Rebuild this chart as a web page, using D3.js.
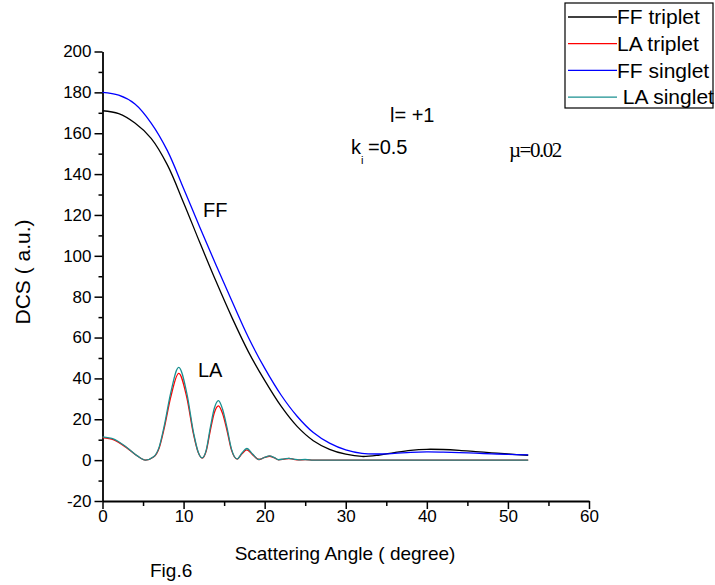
<!DOCTYPE html>
<html>
<head>
<meta charset="utf-8">
<script src="https://cdn.jsdelivr.net/npm/d3@7"></script>
<style>
  body { margin: 0; background: #fff; }
  svg { display: block; font-family: "Liberation Sans", Arial, sans-serif; }
</style>
</head>
<body>
<div id="chart"></div>
<script>
// Scattering angle grid (degree) for the FF curves
const angleFF = [0, 2, 4, 6, 8, 10, 12, 14, 16, 18, 20, 22, 24, 26, 28, 30, 32, 34, 36, 38, 40, 42, 44, 46, 48, 50, 52.5]
const ffTriplet = [171, 169.6, 165, 157.5, 144.5, 126, 106.5, 87.5, 69.5, 53, 39, 26.5, 16.5, 9.5, 5.3, 2.9, 1.8, 2.4, 3.7, 4.8, 5.3, 5.2, 4.8, 4.2, 3.6, 3.0, 2.4]
const ffSinglet = [180, 178.6, 174.3, 165, 151.5, 133, 114, 95.5, 77.5, 60, 45, 32, 21.5, 13.5, 8.3, 5.0, 3.3, 3.0, 3.3, 3.8, 4.0, 3.9, 3.7, 3.4, 3.1, 2.8, 2.6]

// Scattering angle grid (degree) for the LA curves
const angleLA = [0, 1.4, 3.0, 4.3, 5.3, 6.3, 7.0, 7.6, 8.4, 9.4, 10.4, 11.25, 11.8, 12.3, 12.8, 13.3, 13.8, 14.3, 14.8, 15.35, 15.9, 16.6, 17.2, 17.8, 18.5, 19.3, 20.0, 20.6, 21.2, 21.7, 22.4, 23.0, 23.6, 24.2, 25.0, 26, 28, 30, 35, 40, 45, 52.5]
const laTriplet = [11.0, 9.9, 6.0, 2.0, 0, 1.5, 6.1, 15.4, 30.6, 42.5, 30.6, 12.2, 3.8, 1.0, 4.6, 14.6, 23.3, 26.6, 22.9, 14.6, 5.0, 0.5, 3.1, 5.0, 2.7, 0.3, 1.3, 1.9, 1.1, 0.2, 0.5, 0.8, 0.4, 0.1, 0.25, 0.05, 0, 0, 0, 0, 0, 0]
const laSinglet = [11.4, 10.3, 6.2, 2.1, 0, 1.6, 6.5, 16.5, 32.7, 45.4, 32.7, 13, 4, 1.1, 5, 16, 25.5, 29.1, 25, 16, 5.5, 0.6, 3.5, 5.7, 3, 0.3, 1.4, 2.1, 1.2, 0.2, 0.6, 0.9, 0.5, 0.1, 0.3, 0.05, 0, 0, 0, 0, 0, 0]

// Axis ticks
const xTicks = [0, 10, 20, 30, 40, 50, 60]
const xMinorTicks = [5, 15, 25, 35, 45, 55]
const yTicks = [-20, 0, 20, 40, 60, 80, 100, 120, 140, 160, 180, 200]
const yMinorTicks = [-10, 10, 30, 50, 70, 90, 110, 130, 150, 170, 190]

const seriesNames = ["FF triplet", "LA triplet", "FF singlet", " LA singlet"]
const seriesColors = ["#000000", "#ff0000", "#0000ff", "#1a9090"]

const width = 715,
  height = 585

const svg = d3.select("#chart").append("svg").attr("width", width).attr("height", height)

const x = d3.scaleLinear().domain([0, 60]).range([102.5, 589])
const y = d3.scaleLinear().domain([-20, 200]).range([501, 51.5])

// Axes (left and bottom only, like Origin)
svg
  .append("g")
  .attr("transform", `translate(0,${y(-20)})`)
  .call(d3.axisBottom(x).tickValues(xTicks).tickSize(8).tickSizeOuter(0).tickPadding(1).tickFormat((d) => String(d)))
svg
  .append("g")
  .attr("transform", `translate(0,${y(-20)})`)
  .call(d3.axisBottom(x).tickValues(xMinorTicks).tickSize(5).tickFormat(""))
  .call((g) => g.select(".domain").remove())

svg
  .append("g")
  .attr("transform", `translate(${x(0)},0)`)
  .call(d3.axisLeft(y).tickValues(yTicks).tickSize(8).tickSizeOuter(0).tickPadding(3).tickFormat((d) => String(d)))
svg
  .append("g")
  .attr("transform", `translate(${x(0)},0)`)
  .call(d3.axisLeft(y).tickValues(yMinorTicks).tickSize(4).tickFormat(""))
  .call((g) => g.select(".domain").remove())

svg.selectAll(".domain").attr("stroke", "#000").attr("stroke-width", 1.8)
svg.selectAll(".tick line").attr("stroke", "#000").attr("stroke-width", 1.5)
svg
  .selectAll(".tick text")
  .attr("fill", "#000")
  .style("font-size", "17px")
  .style("font-family", "Liberation Sans, Arial, sans-serif")

// Curves
const series = [
  { xs: angleFF, ys: ffTriplet, curve: d3.curveCatmullRom.alpha(0.5) },
  { xs: angleLA, ys: laTriplet, curve: d3.curveMonotoneX },
  { xs: angleFF, ys: ffSinglet, curve: d3.curveCatmullRom.alpha(0.5) },
  { xs: angleLA, ys: laSinglet, curve: d3.curveMonotoneX },
]

series.forEach((s, i) => {
  const line = d3
    .line()
    .x((d) => x(d[0]))
    .y((d) => y(d[1]))
    .curve(s.curve)
  svg
    .append("path")
    .datum(s.xs.map((a, j) => [a, s.ys[j]]))
    .attr("fill", "none")
    .attr("stroke", seriesColors[i])
    .attr("stroke-width", 1.3)
    .attr("d", line)
})

// Legend box
const legend = svg.append("g")
legend.append("rect").attr("x", 565).attr("y", 3).attr("width", 148).attr("height", 105).attr("fill", "#fff").attr("stroke", "#000").attr("stroke-width", 1.2)
seriesNames.forEach((name, i) => {
  const ly = 17 + i * 26.7
  legend.append("line").attr("x1", 568).attr("x2", 617).attr("y1", ly).attr("y2", ly).attr("stroke", seriesColors[i]).attr("stroke-width", 1.3)
  legend
    .append("text")
    .attr("x", 617)
    .attr("y", ly)
    .attr("dy", "0.35em")
    .style("font-size", "21px")
    .style("white-space", "pre")
    .text(name)
})

// Annotations
const note = (tx, ty, txt, size) =>
  svg.append("text").attr("x", tx).attr("y", ty).style("font-size", size + "px").text(txt)

note(390, 122, "l= +1", 20)
note(351, 154, "k", 20)
note(361, 164, "i", 11)
note(368, 154, "=0.5", 20)
svg
  .append("text")
  .attr("x", 509)
  .attr("y", 157)
  .style("font-family", "Liberation Serif, Times New Roman, serif")
  .style("font-size", "21px")
  .style("letter-spacing", "-1.5px")
  .text("\u00b5=0.02")
note(203, 217, "FF", 20)
note(198, 377, "LA", 20)

// Axis titles
svg
  .append("text")
  .attr("x", 345)
  .attr("y", 560)
  .attr("text-anchor", "middle")
  .style("font-size", "19px")
  .text("Scattering Angle ( degree)")

svg
  .append("text")
  .attr("transform", "translate(30,272) rotate(-90)")
  .attr("text-anchor", "middle")
  .style("font-size", "21px")
  .text("DCS ( a.u.)")

note(150, 577, "Fig.6", 19)
</script>
</body>
</html>
